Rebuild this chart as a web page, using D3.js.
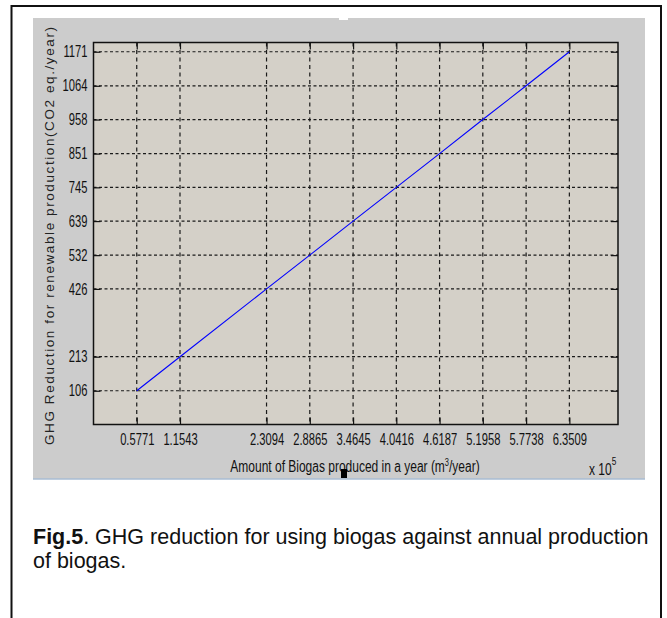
<!DOCTYPE html>
<html>
<head>
<meta charset="utf-8">
<script src="https://cdn.jsdelivr.net/npm/d3@7"></script>
<style>
  html, body { margin: 0; padding: 0; background: #ffffff; }
  svg { display: block; }
</style>
</head>
<body>
<script>
// Annual biogas production (x 10^5 m^3/year) and the matching GHG reduction (CO2 eq./year)
const biogas = [0.5771, 1.1543, 2.3094, 2.8865, 3.4645, 4.0416, 4.6187, 5.1958, 5.7738, 6.3509];
const ghg = [106, 213, 426, 532, 639, 745, 851, 958, 1064, 1171];

// Tick labels shown on each axis
const xTickLabels = ["0.5771", "1.1543", "2.3094", "2.8865", "3.4645", "4.0416", "4.6187", "5.1958", "5.7738", "6.3509"];
const yTickLabels = ["106", "213", "426", "532", "639", "745", "851", "958", "1064", "1171"];

const xDomain = [0, 7];
const yDomain = [0, 1200];

const W = 667, H = 618;
const plot = { left: 93.5, right: 618, top: 42.5, bottom: 424.5 };

// Condensed look for axis text: regular sans squeezed horizontally
const narrow = 0.7;
const axisFont = "'Liberation Sans', Arial, sans-serif";

const svg = d3.select("body").append("svg")
  .attr("width", W).attr("height", H);

// Outer page frame
svg.append("path")
  .attr("d", `M11.5,${H + 2} L11.5,6 L661,6 L661,${H + 2}`)
  .attr("fill", "none").attr("stroke", "#111").attr("stroke-width", 2);

// Figure window background
svg.append("rect")
  .attr("x", 33).attr("y", 18).attr("width", 612).attr("height", 461)
  .attr("fill", "#cccccc");
svg.append("line")
  .attr("x1", 33).attr("x2", 645).attr("y1", 479).attr("y2", 479)
  .attr("stroke", "#a9bdd3").attr("stroke-width", 1.5);
svg.append("rect")
  .attr("x", 339).attr("y", 17).attr("width", 9).attr("height", 3)
  .attr("fill", "#ffffff");

const x = d3.scaleLinear().domain(xDomain).range([plot.left, plot.right]);
const y = d3.scaleLinear().domain(yDomain).range([plot.bottom, plot.top]);

// Axes background
svg.append("rect")
  .attr("x", plot.left).attr("y", plot.top)
  .attr("width", plot.right - plot.left).attr("height", plot.bottom - plot.top)
  .attr("fill", "#d4d0c8");

// Grid lines
const grid = svg.append("g");
grid.selectAll("line.h").data(ghg).join("line")
  .attr("class", "h")
  .attr("x1", plot.left).attr("x2", plot.right)
  .attr("y1", d => y(d)).attr("y2", d => y(d))
  .attr("stroke", "#1a1a1a").attr("stroke-width", 1.2)
  .attr("stroke-dasharray", "3,2.5");
grid.selectAll("line.v").data(biogas).join("line")
  .attr("class", "v")
  .attr("x1", d => x(d)).attr("x2", d => x(d))
  .attr("y1", plot.top).attr("y2", plot.bottom)
  .attr("stroke", "#1a1a1a").attr("stroke-width", 1.2)
  .attr("stroke-dasharray", "4,3.5");

// Data line
svg.append("path")
  .datum(biogas.map((b, i) => [b, ghg[i]]))
  .attr("fill", "none")
  .attr("stroke", "#0000ff")
  .attr("stroke-width", 1.1)
  .attr("d", d3.line().x(d => x(d[0])).y(d => y(d[1])));

const tickLen = 7;

// Bottom and top axes
const xAxis = d3.axisBottom(x).tickValues(biogas)
  .tickFormat((d, i) => xTickLabels[i]).tickSizeInner(-tickLen).tickSizeOuter(0).tickPadding(9);
const gx = svg.append("g").attr("transform", `translate(0,${plot.bottom})`).call(xAxis);
const gxTop = svg.append("g").attr("transform", `translate(0,${plot.top})`)
  .call(d3.axisTop(x).tickValues(biogas).tickFormat("").tickSizeInner(-tickLen).tickSizeOuter(0));

// Left and right axes
const yAxis = d3.axisLeft(y).tickValues(ghg)
  .tickFormat((d, i) => yTickLabels[i]).tickSizeInner(-tickLen).tickSizeOuter(0).tickPadding(6);
const gy = svg.append("g").attr("transform", `translate(${plot.left},0)`).call(yAxis);
const gyRight = svg.append("g").attr("transform", `translate(${plot.right},0)`)
  .call(d3.axisRight(y).tickValues(ghg).tickFormat("").tickSizeInner(-tickLen).tickSizeOuter(0));

[gx, gxTop, gy, gyRight].forEach(g => {
  g.select(".domain").remove();
  g.selectAll(".tick line").attr("stroke", "#111").attr("stroke-width", 1.2);
  g.selectAll(".tick text")
    .attr("fill", "#111")
    .style("font-family", axisFont)
    .style("font-size", "16px");
});
gx.selectAll(".tick text").attr("transform", `scale(${narrow},1)`);
gy.selectAll(".tick text")
  .attr("x", -6 / narrow)
  .attr("transform", `scale(${narrow},1)`);

// Axes box
svg.append("rect")
  .attr("x", plot.left).attr("y", plot.top)
  .attr("width", plot.right - plot.left).attr("height", plot.bottom - plot.top)
  .attr("fill", "none").attr("stroke", "#111").attr("stroke-width", 1.5);

// Axis titles
const xLabel = svg.append("g").attr("transform", "translate(355,472) scale(0.75,1)")
  .append("text")
  .attr("x", 0).attr("y", 0)
  .attr("text-anchor", "middle")
  .style("font-family", axisFont).style("font-size", "16px").attr("fill", "#111");
xLabel.append("tspan").text("Amount of Biogas produced in a year (m");
xLabel.append("tspan").attr("dy", -6).style("font-size", "10px").text("3");
xLabel.append("tspan").attr("dy", 6).text("/year)");

const expLabel = svg.append("g").attr("transform", "translate(589,475) scale(0.75,1)")
  .append("text")
  .style("font-family", axisFont).style("font-size", "16px").attr("fill", "#111");
expLabel.append("tspan").text("x 10");
expLabel.append("tspan").attr("dy", -10).style("font-size", "11px").text("5");

svg.append("text")
  .attr("transform", "translate(54,445) rotate(-90)")
  .attr("textLength", 418).attr("lengthAdjust", "spacing")
  .style("font-family", axisFont).style("font-size", "13.5px")
  .attr("fill", "#222")
  .text("GHG Reduction for renewable production(CO2 eq./year)");

// Cursor marker left on the figure
svg.append("rect")
  .attr("x", 341).attr("y", 469).attr("width", 6).attr("height", 9)
  .attr("fill", "#000");

// Caption
const capFont = "'Liberation Sans', Arial, sans-serif";
const cap1 = svg.append("text")
  .attr("x", 33).attr("y", 544)
  .style("font-family", capFont).style("font-size", "21.5px").attr("fill", "#111");
cap1.append("tspan").style("font-weight", "bold").text("Fig.5");
cap1.append("tspan").text(". GHG reduction for using biogas against annual production");
svg.append("text")
  .attr("x", 33).attr("y", 568)
  .style("font-family", capFont).style("font-size", "21.5px").attr("fill", "#111")
  .text("of biogas.");
</script>
</body>
</html>
